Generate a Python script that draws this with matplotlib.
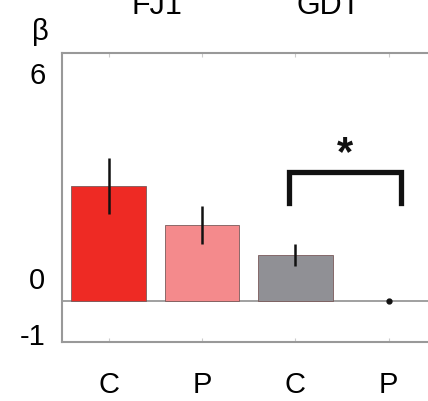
import matplotlib.pyplot as plt
from matplotlib.transforms import ScaledTranslation

plt.rcParams['font.family'] = ['Liberation Sans', 'DejaVu Sans']

# data
conditions = ['C', 'P', 'C', 'P']
betas = [2.78, 1.83, 1.10, 0.0]
errors = [0.68, 0.46, 0.27, 0.0]
colors = ['#ee2a24', '#f48a8c', '#909095', '#ffffff']
groups = ['FJ1', 'GDT']
group_x = [1.52, 3.35]
yticks = [6, 0, -1]
# significance bracket between the two GDT bars
bracket_x = [2.93, 4.13]
bracket_y = [2.37, 3.12]
star_y = 3.55

x = list(range(1, len(betas) + 1))

fig = plt.figure(figsize=(4.28, 4.01), dpi=100)
ax = fig.add_axes([62 / 428, 59 / 401, 1 - 62 / 428, 289 / 401])

ax.bar(x[:3], betas[:3], width=0.8, color=colors[:3], edgecolor='#7a5a5a',
       linewidth=0.6, zorder=2)
ax.errorbar(x[:3], betas[:3], yerr=errors[:3], fmt='none', ecolor='#111111',
            elinewidth=1.8, capsize=0, zorder=3)
# the last bar is ~0, shown as a single dot
ax.plot(x[3], betas[3], 'o', color='#111111', markersize=3.5, zorder=3)

ax.axhline(0, color='#999999', lw=1.3, zorder=1)

# bracket + star
ax.plot([bracket_x[0], bracket_x[0], bracket_x[1], bracket_x[1]],
        [bracket_y[0], bracket_y[1], bracket_y[1], bracket_y[0]],
        color='#111111', lw=3.8, solid_joinstyle='miter', zorder=3)
ax.text(sum(bracket_x) / 2, star_y, '*', ha='center', va='center',
        fontsize=30, fontweight='bold', color='#111111')

ax.set_xlim(0.5, 4.42)
ax.set_ylim(-1, 6)
ax.set_yticks(yticks)
ax.set_yticklabels([str(v) for v in yticks], fontsize=21)
ax.tick_params(axis='y', length=0, pad=12)
# labels in the original sit a bit off their ticks
for lab, dy in zip(ax.get_yticklabels(), [-20, 23, 8]):
    lab.set_transform(lab.get_transform() +
                      ScaledTranslation(0, dy / 100, fig.dpi_scale_trans))
ax.set_xticks(x)
ax.set_xticklabels(conditions, fontsize=21)
ax.tick_params(axis='x', direction='in', length=3, color='#cccccc', pad=21,
               top=True)

for side in ['left', 'bottom', 'top']:
    ax.spines[side].set_color('#999999')
    ax.spines[side].set_linewidth(1.5)
ax.spines['right'].set_visible(False)

for g, gx in zip(groups, group_x):
    xf = (62 + (gx - 0.5) * 93.5) / 428
    fig.text(xf, (401 - 14) / 401, g, ha='center', va='baseline', fontsize=22)
fig.text(40 / 428, (401 - 40) / 401, 'β', ha='center', va='baseline', fontsize=21)

fig.savefig('out.png', dpi=100)
